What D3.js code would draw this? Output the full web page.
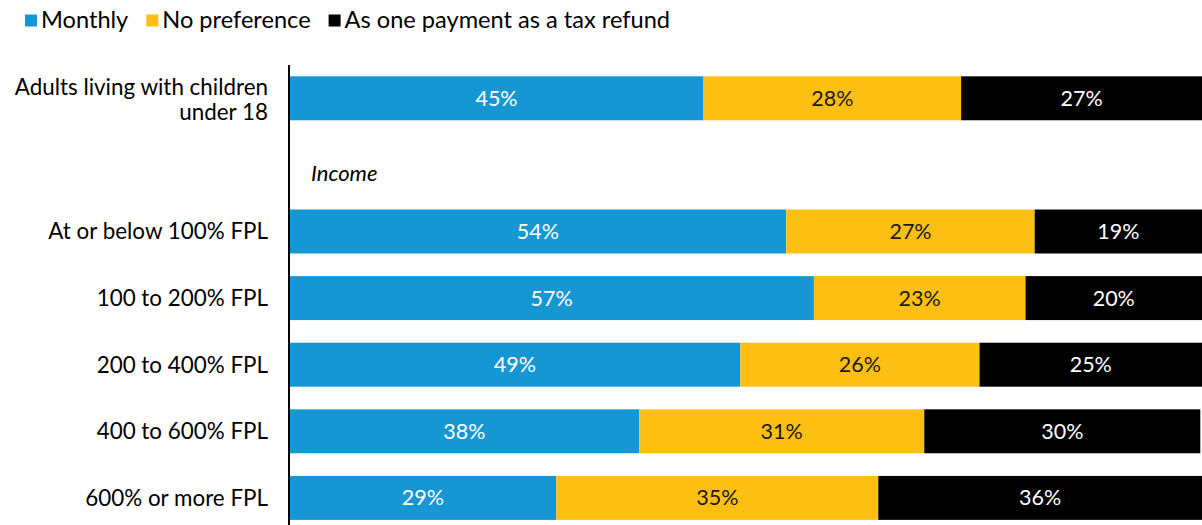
<!DOCTYPE html>
<html>
<head>
<meta charset="utf-8">
<script src="https://cdn.jsdelivr.net/npm/d3@7"></script>
<style>
  html, body { margin: 0; padding: 0; background: #fff; overflow: hidden; }
  svg { display: block; font-family: Lato, "Open Sans", sans-serif; }
</style>
</head>
<body>
<svg id="chart" width="1202" height="525"></svg>
<script>
// ---- data ----
const categories = ["Adults living with children under 18", "Income", "At or below 100% FPL", "100 to 200% FPL", "200 to 400% FPL", "400 to 600% FPL", "600% or more FPL"];
const seriesNames = ["Monthly", "No preference", "As one payment as a tax refund"];
const monthly      = [45, null, 54, 57, 49, 38, 29];
const noPreference = [28, null, 27, 23, 26, 31, 35];
const taxRefund    = [27, null, 19, 20, 25, 30, 36];
const colors = ["#1696d2", "#fdbf11", "#000000"];
const labelColors = ["#ffffff", "#1a1a1a", "#ffffff"];

// ---- layout ----
const svg = d3.select("#chart");
const W = 1202, H = 525;
const plotLeft = 289.5;
const plotWidth = 920;   // plot extends slightly past the right edge of the view

const rows = categories.map((c, i) => ({
  cat: c, vals: [monthly[i], noPreference[i], taxRefund[i]]
}));

const x = d3.scaleLinear().domain([0, 100]).range([plotLeft, plotLeft + plotWidth]);
const y = d3.scaleBand().domain(categories).range([65, 65 + 7 * 66.6]).paddingInner(0.34).paddingOuter(0.17);

// bars
rows.forEach(r => {
  if (r.vals[0] == null) return;
  let acc = 0;
  r.vals.forEach((v, k) => {
    const x0 = x(acc), x1 = x(acc + v);
    svg.append("rect")
      .attr("x", x0).attr("y", y(r.cat))
      .attr("width", x1 - x0).attr("height", y.bandwidth())
      .attr("fill", colors[k]);
    svg.append("text")
      .attr("x", (x0 + Math.min(x1, W)) / 2).attr("y", y(r.cat) + y.bandwidth() / 2)
      .attr("dy", "0.35em").attr("text-anchor", "middle")
      .attr("font-size", 21.5).attr("fill", labelColors[k])
      .text(v + "%");
    acc += v;
  });
});

// category labels
rows.forEach(r => {
  const cy = y(r.cat) + y.bandwidth() / 2;
  if (r.cat === "Income") {
    svg.append("text").attr("x", 311).attr("y", cy + 8).attr("dy", "0.35em")
      .attr("font-size", 22).attr("font-style", "italic").attr("fill", "#000")
      .text(r.cat);
    return;
  }
  const t = svg.append("text").attr("text-anchor", "end").attr("font-size", 22.4).attr("fill", "#000");
  if (r.cat === "Adults living with children under 18") {
    t.append("tspan").attr("x", 268).attr("y", cy - 11).attr("dy", "0.35em").text("Adults living with children");
    t.append("tspan").attr("x", 268).attr("y", cy + 14).attr("dy", "0.35em").text("under 18");
  } else {
    t.attr("x", 268).attr("y", cy).attr("dy", "0.35em").text(r.cat);
  }
});

// axis line
svg.append("line").attr("x1", 289).attr("x2", 289)
  .attr("y1", 65).attr("y2", H).attr("stroke", "#000").attr("stroke-width", 2);

// legend
const legend = svg.append("g");
let lx = 25;
seriesNames.forEach((s, k) => {
  legend.append("rect").attr("x", lx).attr("y", 14.5).attr("width", 12).attr("height", 12).attr("fill", colors[k]);
  const t = legend.append("text").attr("x", lx + 16).attr("y", 20).attr("dy", "0.35em")
    .attr("font-size", 23.6).attr("fill", "#000").text(s);
  lx += 16 + t.node().getComputedTextLength() + 18;
});
</script>
</body>
</html>
